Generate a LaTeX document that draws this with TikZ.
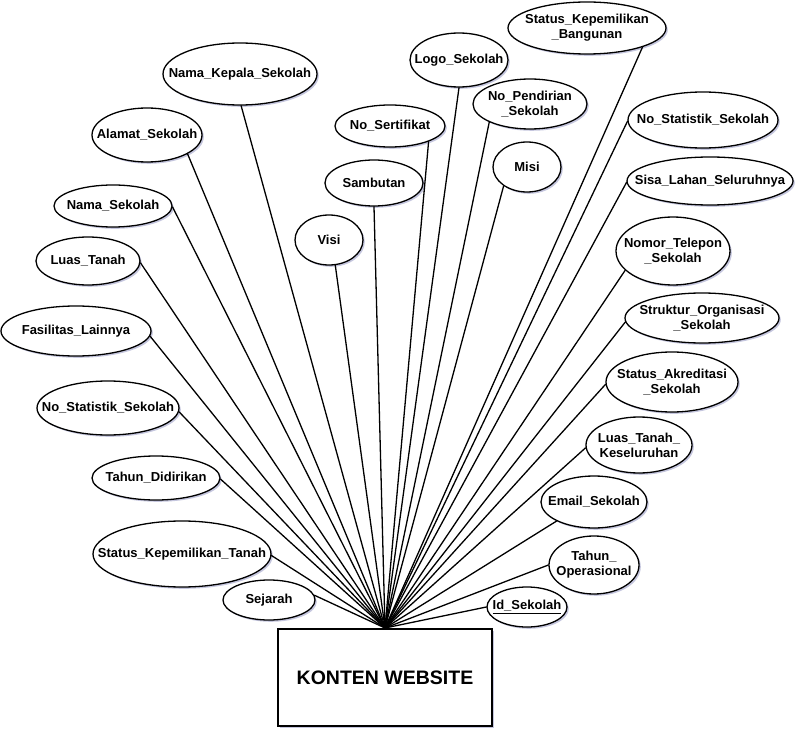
\documentclass[tikz,border=0pt]{standalone}
\usepackage{fontspec}
\setmainfont{Liberation Sans}
\usetikzlibrary{shapes.geometric,shadows}
\definecolor{shadowc}{RGB}{172,174,208}
\newcommand\mkattr[6]{%
  \node[attr, minimum width=#4pt, minimum height=#5pt] (#1) at (#2,#3) {};
  \node[lbl] at (#1) {#6};}
\begin{document}
\begin{tikzpicture}[x=1pt,y=-1pt,
  attr/.style={ellipse, draw, line width=1.3pt, fill=white, inner sep=0pt,
    drop shadow={shadow xshift=1.8pt, shadow yshift=-1.8pt, fill=shadowc, opacity=0.7}},
  lbl/.style={font=\bfseries\fontsize{13}{15}\selectfont, align=center, inner sep=0pt},
  conn/.style={line width=1.3pt, line cap=round}]
\useasboundingbox (0,0) rectangle (804,738);
\coordinate (hub) at (385,628);

\mkattr{nks}{240}{74}{154}{62}{Nama\_Kepala\_Sekolah}
\mkattr{als}{147}{135}{110}{54}{Alamat\_Sekolah}
\mkattr{nms}{113}{206}{118}{42}{Nama\_Sekolah}
\mkattr{lt}{88}{261}{104}{48}{Luas\_Tanah}
\mkattr{fl}{76}{331}{150}{50}{Fasilitas\_Lainnya}
\mkattr{nsl}{108}{408}{142}{54}{No\_Statistik\_Sekolah}
\mkattr{td}{156}{478}{128}{44}{Tahun\_Didirikan}
\mkattr{skt}{182}{554}{178}{66}{Status\_Kepemilikan\_Tanah}
\mkattr{sej}{269}{600}{92}{40}{Sejarah}
\mkattr{visi}{329}{240}{68}{50}{Visi}
\mkattr{samb}{374}{183}{98}{46}{Sambutan}
\mkattr{nsert}{390}{126}{110}{42}{No\_Sertifikat}
\mkattr{logo}{459}{60}{98}{54}{Logo\_Sekolah}
\mkattr{npend}{530}{104}{114}{50}{No\_Pendirian\\\_Sekolah}
\mkattr{misi}{527}{167}{68}{50}{Misi}
\mkattr{skb}{587}{28}{158}{52}{Status\_Kepemilikan\\\_Bangunan}
\mkattr{nsr}{703}{120}{150}{56}{No\_Statistik\_Sekolah}
\mkattr{sisa}{710}{181}{166}{48}{Sisa\_Lahan\_Seluruhnya}
\mkattr{ntel}{673}{251}{114}{68}{Nomor\_Telepon\\\_Sekolah}
\mkattr{sos}{702}{318}{154}{50}{Struktur\_Organisasi\\\_Sekolah}
\mkattr{sak}{672}{382}{132}{60}{Status\_Akreditasi\\\_Sekolah}
\mkattr{ltk}{639}{445}{106}{56}{Luas\_Tanah\_\\Keseluruhan}
\mkattr{email}{594}{502}{106}{52}{Email\_Sekolah}
\mkattr{top}{594}{565}{90}{58}{Tahun\_\\Operasional}
\mkattr{ids}{527}{607}{80}{40}{\underline{Id\_Sekolah}}

\foreach \n/\a in {nks/272, als/335, nms/359, lt/358, fl/356, nsl/357, td/359,
  skt/359, sej/6, visi/284, samb/270, nsert/338, logo/270, npend/204, misi/219,
  skb/341, nsr/181, sisa/181, ntel/202, sos/183, sak/182, ltk/183, email/207,
  top/180, ids/180}
  \draw[conn] (hub) -- (\n.\a);

\node[draw, line width=1.3pt, fill=white, minimum width=214pt, minimum height=97pt,
  inner sep=0pt,
  drop shadow={shadow xshift=1.8pt, shadow yshift=-1.8pt, fill=shadowc, opacity=0.7},
  font=\bfseries\fontsize{19.5}{22}\selectfont] (kw) at (385,677.5) {KONTEN WEBSITE};
\end{tikzpicture}
\end{document}
